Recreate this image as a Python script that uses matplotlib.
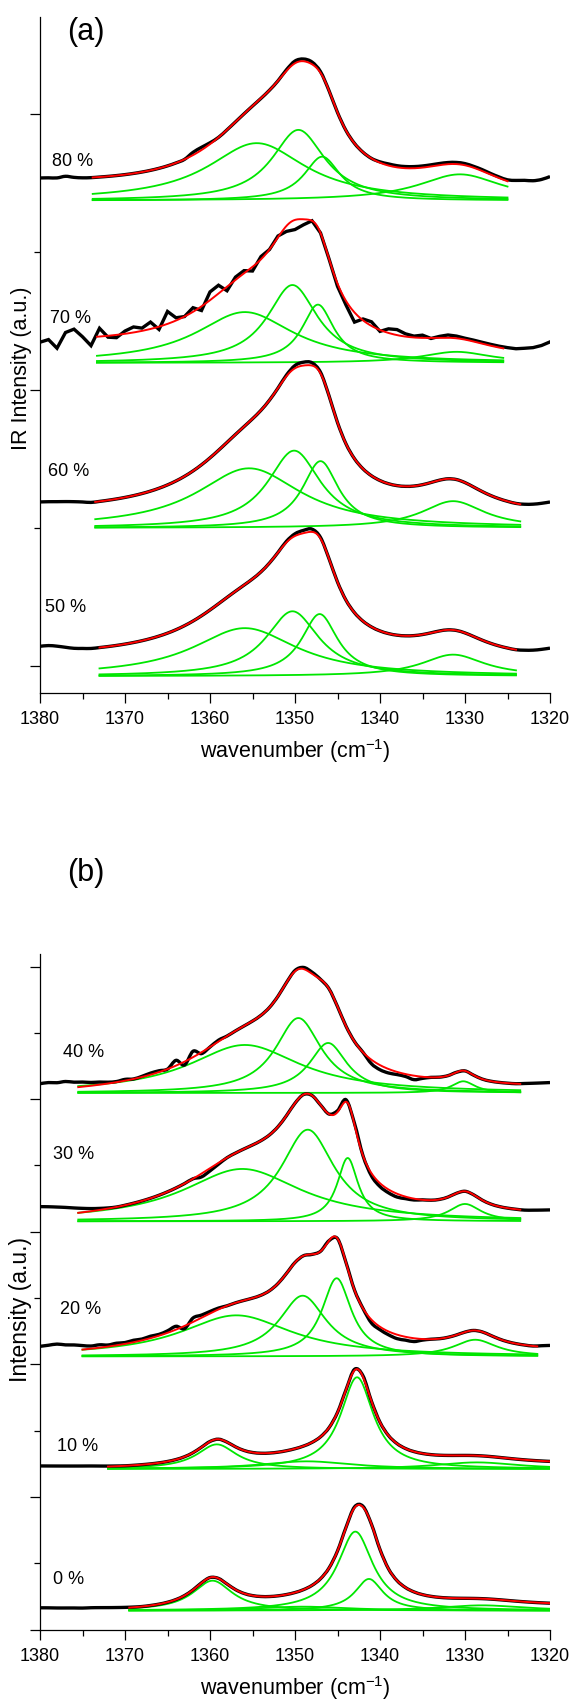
import numpy as np
import matplotlib.pyplot as plt
from matplotlib.path import Path
from matplotlib.patches import PathPatch
from matplotlib.ticker import MultipleLocator

plt.rcParams['font.family'] = ['Liberation Sans', 'DejaVu Sans']
plt.rcParams['mathtext.fontset'] = 'custom'
plt.rcParams['mathtext.rm'] = 'Liberation Sans'
plt.rcParams['mathtext.it'] = 'Liberation Sans:italic'
plt.rcParams['mathtext.bf'] = 'Liberation Sans:bold'

# wavenumber grid of the measured spectra (1380 ... 1320 cm-1, 1 cm-1 step)
wn_data = np.arange(1380, 1319, -1)

# ---------------- panel (a) ----------------
labels_a = ['80 %', '70 %', '60 %', '50 %']
base_a = [1.686, 1.098, 0.500, -0.037]          # zero level of the fitted bands
fit_start_a = [1373.8, 1373.3, 1373.5, 1373.0]
fit_end_a = [1325.0, 1325.5, 1323.5, 1324.0]
offset_start_a = [0.050, 0.060, 0.052, 0.066]   # fit baseline at start / end
offset_end_a = [0.000, 0.017, 0.042, 0.058]
centers_a = [[1354.5, 1349.6, 1346.8, 1330.6],
             [1355.9, 1350.3, 1347.3, 1331.0],
             [1355.4, 1350.1, 1347.0, 1331.4],
             [1355.9, 1350.3, 1347.1, 1331.4]]
heights_a = [[0.208, 0.256, 0.159, 0.095],
             [0.184, 0.282, 0.211, 0.040],
             [0.216, 0.280, 0.242, 0.097],
             [0.174, 0.235, 0.225, 0.078]]
widths_a = [[7.0, 3.8, 2.6, 6.0],
            [7.0, 3.6, 2.3, 5.0],
            [7.5, 3.8, 2.6, 4.5],
            [7.5, 3.8, 2.6, 4.5]]
# measured spectrum minus fit model, on wn_data
resid_80 = [0.011, 0.010, 0.008, 0.012, 0.006, 0.002, 0.000, 0.000, 0.000, 0.000,
            0.000, 0.000, 0.000, 0.000, 0.000, 0.000, 0.000, 0.000, 0.010, 0.010,
            0.005, 0.000, 0.000, 0.000, 0.000, 0.000, 0.000, 0.000, 0.000, 0.004,
            0.008, 0.008, 0.008, 0.004, 0.000, 0.000, 0.000, 0.000, 0.000, 0.000,
            0.003, 0.006, 0.006, 0.006, 0.006, 0.006, 0.006, 0.006, 0.006, 0.006,
            0.006, 0.005, 0.005, 0.004, 0.004, 0.005, 0.012, 0.020, 0.025, 0.035,
            0.050]
resid_70 = [-0.005, 0.003, -0.030, 0.025, 0.035, 0.005, -0.030, 0.030, -0.005, -0.010,
            0.010, 0.020, 0.010, 0.025, -0.010, 0.045, 0.010, 0.000, 0.015, -0.015,
            0.030, 0.030, -0.015, 0.010, 0.010, -0.015, 0.010, 0.000, 0.005, -0.020,
            -0.035, -0.020, 0.000, 0.000, 0.000, -0.010, -0.015, -0.035, 0.005, 0.015,
            -0.005, 0.015, 0.020, 0.010, 0.005, 0.010, -0.002, 0.005, 0.010, 0.008,
            0.005, 0.005, 0.005, 0.005, 0.005, 0.005, 0.005, 0.010, 0.015, 0.025,
            0.040]
resid_60 = [0.017, 0.016, 0.014, 0.012, 0.009, 0.005, 0.000, 0.000, 0.000, 0.000,
            0.000, 0.000, 0.000, 0.000, 0.000, 0.000, 0.000, 0.000, 0.000, 0.000,
            0.000, 0.000, 0.000, 0.000, 0.000, 0.000, 0.000, 0.000, 0.000, 0.004,
            0.010, 0.012, 0.010, 0.004, 0.000, 0.000, 0.000, 0.000, 0.000, 0.000,
            0.000, 0.000, 0.000, 0.000, 0.000, 0.000, 0.000, 0.000, 0.000, 0.000,
            0.000, 0.000, 0.000, 0.000, 0.000, 0.000, 0.000, 0.003, 0.008, 0.015,
            0.023]
resid_50 = [0.021, 0.022, 0.018, 0.012, 0.006, 0.003, 0.000, 0.000, 0.000, 0.000,
            0.000, 0.000, 0.000, 0.000, 0.000, 0.000, 0.000, 0.000, 0.000, 0.000,
            0.000, 0.000, 0.000, 0.000, 0.000, 0.000, 0.000, 0.000, 0.000, 0.004,
            0.008, 0.010, 0.010, 0.004, 0.000, 0.000, 0.000, 0.000, 0.000, 0.000,
            0.000, 0.000, 0.000, 0.000, 0.000, 0.000, 0.000, 0.000, 0.000, 0.000,
            0.000, 0.000, 0.000, 0.000, 0.000, 0.000, 0.000, 0.003, 0.007, 0.013,
            0.020]
resid_a = [resid_80, resid_70, resid_60, resid_50]

# ---------------- panel (b) ----------------
labels_b = ['40 %', '30 %', '20 %', '10 %', '0 %']
base_b = [3.047, 2.079, 1.060, 0.211, -0.857]
fit_start_b = [1375.5, 1375.5, 1375.0, 1372.0, 1369.5]
fit_end_b = [1323.5, 1323.5, 1321.5, 1320.0, 1320.0]
offset_start_b = [-0.020, -0.015, -0.010, 0.000, -0.005]
offset_end_b = [0.028, 0.030, 0.030, 0.030, 0.030]
centers_b = [[1355.9, 1349.6, 1346.1, 1330.2],
             [1356.2, 1348.5, 1343.8, 1330.0],
             [1356.9, 1349.1, 1345.1, 1328.8],
             [1359.2, 1348.6, 1342.7, 1328.6],
             [1359.7, 1349.0, 1342.9, 1341.3, 1328.0]]
heights_b = [[0.362, 0.565, 0.377, 0.088],
             [0.395, 0.691, 0.478, 0.131],
             [0.310, 0.458, 0.590, 0.126],
             [0.186, 0.058, 0.692, 0.050],
             [0.226, 0.030, 0.596, 0.239, 0.040]]
widths_b = [[8.0, 3.3, 2.7, 1.7],
            [8.5, 3.8, 1.5, 2.3],
            [8.0, 3.4, 2.1, 3.1],
            [2.85, 6.5, 2.35, 6.0],
            [2.85, 6.5, 2.5, 2.0, 6.0]]
resid_40 = [0.045, 0.050, 0.045, 0.050, 0.040, 0.035, 0.025, 0.020, 0.010, 0.005,
            0.010, 0.000, 0.005, 0.012, 0.010, 0.000, 0.040, -0.025, 0.045, -0.010,
            0.000, 0.010, 0.000, 0.000, 0.000, 0.000, 0.000, 0.000, 0.000, 0.000,
            0.006, 0.012, 0.012, 0.000, 0.000, 0.000, 0.000, 0.000, 0.000, -0.030,
            -0.035, -0.030, -0.020, -0.018, -0.030, -0.012, 0.000, 0.000, 0.000, 0.000,
            0.000, 0.000, 0.000, 0.000, 0.000, 0.000, 0.000, 0.005, 0.010, 0.015,
            0.020]
resid_30 = [0.070, 0.065, 0.058, 0.050, 0.040, 0.030, 0.020, 0.012, 0.005, 0.000,
            0.000, 0.000, 0.000, 0.000, 0.000, 0.000, 0.000, 0.000, 0.000, -0.025,
            -0.020, -0.010, 0.000, 0.000, 0.000, 0.000, 0.000, 0.000, 0.000, 0.000,
            0.000, 0.000, 0.000, 0.000, 0.000, 0.010, 0.015, 0.010, 0.000, -0.020,
            -0.025, -0.025, -0.025, -0.015, -0.010, 0.000, 0.000, 0.000, 0.000, 0.000,
            0.000, 0.000, 0.000, 0.000, 0.000, 0.000, 0.000, 0.000, 0.005, 0.010,
            0.015]
resid_20 = [0.045, 0.050, 0.055, 0.045, 0.040, 0.030, 0.020, 0.022, 0.012, 0.016,
            0.010, 0.015, 0.010, 0.015, 0.010, 0.015, 0.025, -0.020, 0.030, 0.020,
            0.015, 0.010, 0.000, 0.000, 0.000, 0.000, 0.000, 0.000, 0.000, 0.000,
            0.000, 0.000, 0.000, 0.000, 0.000, 0.000, 0.000, 0.000, 0.000, -0.025,
            -0.022, -0.025, -0.030, -0.025, -0.025, -0.008, 0.000, 0.000, 0.000, 0.000,
            0.000, 0.000, 0.000, 0.000, 0.000, 0.000, 0.000, 0.000, 0.000, 0.008,
            0.015]
resid_10 = [0.014, 0.013, 0.012, 0.011, 0.010, 0.009, 0.008, 0.006, 0.004, 0.002,
            0.000, 0.000, 0.000, 0.000, 0.000, 0.000, 0.000, 0.000, 0.000, 0.000,
            0.000, 0.000, 0.000, 0.000, 0.000, 0.000, 0.000, 0.000, 0.000, 0.000,
            0.000, 0.000, 0.000, 0.000, 0.000, 0.000, 0.000, 0.008, 0.008, 0.000,
            0.000, 0.000, 0.000, 0.000, 0.000, 0.000, 0.000, 0.000, 0.000, 0.000,
            0.000, 0.000, 0.000, 0.000, 0.000, 0.000, 0.000, 0.000, 0.000, 0.000,
            0.000]
resid_0 = [0.017, 0.016, 0.014, 0.013, 0.012, 0.010, 0.011, 0.010, 0.008, 0.006,
           0.004, 0.002, 0.000, 0.000, 0.000, 0.000, 0.000, 0.000, 0.000, 0.000,
           0.000, 0.000, 0.000, 0.000, 0.000, 0.000, 0.000, 0.000, 0.000, 0.000,
           0.000, 0.000, 0.000, 0.000, 0.000, 0.000, 0.000, 0.006, 0.006, 0.000,
           0.000, 0.000, 0.000, 0.000, 0.000, 0.000, 0.000, 0.000, 0.000, 0.000,
           0.000, 0.000, 0.000, 0.000, 0.000, 0.000, 0.000, 0.000, 0.000, 0.000,
           0.000]
resid_b = [resid_40, resid_30, resid_20, resid_10, resid_0]

GREEN = '#00e600'


def lorentz(x, c, h, w):
    return h / (1.0 + ((x - c) / w) ** 2)


def fit_model(x, i, base, f_start, f_end, off_s, off_e, cents, heights, widths):
    y = base[i] + np.interp(x, [f_end[i], f_start[i]], [off_e[i], off_s[i]])
    for c, h, w in zip(cents[i], heights[i], widths[i]):
        y = y + lorentz(x, c, h, w)
    return y


def smooth_path(x, y):
    # stroke through the measured points with Catmull-Rom curves
    p = np.column_stack([x, y])
    ext = np.vstack([p[0], p, p[-1]])
    verts = [p[0]]
    codes = [Path.MOVETO]
    for k in range(len(p) - 1):
        p0, p1, p2, p3 = ext[k], ext[k + 1], ext[k + 2], ext[k + 3]
        verts += [p1 + (p2 - p0) / 6.0, p2 - (p3 - p1) / 6.0, p2]
        codes += [Path.CURVE4] * 3
    return Path(verts, codes)


def draw_stack(ax, labels, base, f_start, f_end, off_s, off_e, cents, heights,
               widths, resid, label_pos, jagged=()):
    for i in range(len(labels)):
        xf = np.linspace(f_start[i], f_end[i], 400)
        for c, h, w in zip(cents[i], heights[i], widths[i]):
            ax.plot(xf, base[i] + lorentz(xf, c, h, w), color=GREEN, lw=1.3, zorder=2)
        args = (base, f_start, f_end, off_s, off_e, cents, heights, widths)
        measured = fit_model(wn_data, i, *args) + np.array(resid[i])
        if i in jagged:
            ax.plot(wn_data, measured, color='black', lw=2.4, zorder=3,
                    solid_joinstyle='miter')
        else:
            ax.add_patch(PathPatch(smooth_path(wn_data, measured), fill=False,
                                   edgecolor='black', lw=2.4, zorder=3, joinstyle='round'))
        ax.plot(xf, fit_model(xf, i, *args), color='red', lw=1.4, zorder=4)
        lx, ly = label_pos[i]
        ax.text(lx, ly, labels[i], fontsize=13, ha='left', va='center')


def style_axes(ax, ylim):
    ax.set_xlim(1380, 1320)
    ax.set_ylim(*ylim)
    for s in ['top', 'right']:
        ax.spines[s].set_visible(False)
    for s in ['left', 'bottom']:
        ax.spines[s].set_linewidth(0.9)
    ax.xaxis.set_major_locator(MultipleLocator(10))
    ax.xaxis.set_minor_locator(MultipleLocator(5))
    ax.yaxis.set_major_locator(MultipleLocator(1.0))
    ax.yaxis.set_minor_locator(MultipleLocator(0.5))
    ax.tick_params(which='major', direction='out', length=7, width=0.9, labelsize=13, pad=5)
    ax.tick_params(which='minor', direction='out', length=4.3, width=0.9)
    ax.tick_params(axis='y', labelleft=False)
    ax.set_xlabel('wavenumber (cm$^{-1}$)', fontsize=15.5, labelpad=7)


fig = plt.figure(figsize=(5.74, 17.08), dpi=100)
ax_a = fig.add_axes([40 / 574, 1 - 694 / 1708, 510 / 574, 676 / 1708])
ax_b = fig.add_axes([40 / 574, 1 - 1631 / 1708, 510 / 574, 676 / 1708])

draw_stack(ax_a, labels_a, base_a, fit_start_a, fit_end_a, offset_start_a, offset_end_a,
           centers_a, heights_a, widths_a, resid_a,
           [(1378.6, 1.830), (1378.8, 1.264), (1379.1, 0.707), (1379.4, 0.217)],
           jagged=(1,))
draw_stack(ax_b, labels_b, base_b, fit_start_b, fit_end_b, offset_start_b, offset_end_b,
           centers_b, heights_b, widths_b, resid_b,
           [(1377.3, 3.356), (1378.5, 2.594), (1377.6, 1.418), (1378.0, 0.392), (1378.5, -0.611)])

style_axes(ax_a, (-0.098, 2.351))
style_axes(ax_b, (-1.003, 4.095))
ax_a.set_ylabel('IR Intensity (a.u.)', fontsize=15.5)
ax_b.set_ylabel('Intensity (a.u.)', fontsize=16.5)
ax_a.yaxis.set_label_coords(-0.016, 0.482)
ax_b.yaxis.set_label_coords(-0.016, 0.476)

fig.text(86 / 574, 1 - 32 / 1708, '(a)', fontsize=22, ha='center', va='center')
fig.text(86 / 574, 1 - 873 / 1708, '(b)', fontsize=22, ha='center', va='center')

fig.savefig('out.png', dpi=100)
